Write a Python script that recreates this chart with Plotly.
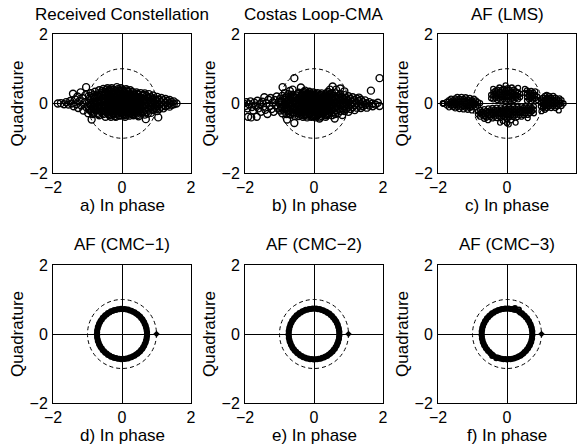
import numpy as np
import plotly.graph_objects as go

# ---------------------------------------------------------------------------
# Constellation samples (in-phase, [quadrature values]) grouped by I value
# ---------------------------------------------------------------------------
RX_COLS = [
    (-1.86, [0.00]), (-1.77, [0.01]), (-1.68, [-0.02]), (-1.62, [0.04]),
    (-1.55, [-0.03]), (-1.50, [0.07]), (-1.46, [0.00]), (-1.42, [0.28]),
    (-1.40, [-0.08]), (-1.36, [0.12]), (-1.32, [-0.02]), (-1.29, [0.20]),
    (-1.27, [-0.13]), (-1.23, [0.07]), (-1.20, [0.32]), (-1.18, [-0.06]),
    (-1.15, [0.16]), (-1.12, [-0.20]), (-1.09, [0.03]), (-1.06, [0.24]),
    (-1.04, [0.47]), (-1.03, [-0.11]), (-0.98, [-0.28]),
    (-0.96, [0.22, 0.02, -0.14]), (-0.90, [0.10, -0.06, -0.22, 0.30]),
    (-0.88, [-0.46]), (-0.84, [0.24, 0.04, -0.12, -0.30]),
    (-0.78, [0.15, -0.03, -0.19, 0.34]), (-0.72, [0.26, 0.08, -0.09, -0.27]),
    (-0.66, [0.18, 0.00, -0.16, -0.34, 0.38]), (-0.60, [0.30, 0.11, -0.06, -0.23]),
    (-0.54, [0.22, 0.04, -0.13, -0.30, 0.42]), (-0.48, [0.34, 0.14, -0.03, -0.20, -0.38]),
    (-0.42, [0.25, 0.07, -0.10, -0.27, 0.44]), (-0.36, [0.37, 0.17, 0.00, -0.17, -0.34]),
    (-0.32, [-0.38]), (-0.30, [0.28, 0.09, -0.08, -0.24, 0.44]),
    (-0.24, [0.39, 0.19, 0.02, -0.15, -0.31]), (-0.18, [0.30, 0.11, -0.06, -0.22, -0.38]),
    (-0.15, [0.47]), (-0.12, [0.41, 0.21, 0.04, -0.13, -0.29]),
    (-0.06, [0.32, 0.13, -0.04, -0.20, -0.35]), (0.00, [0.40, 0.23, 0.06, -0.11, -0.27]),
    (0.06, [0.33, 0.15, -0.02, -0.18, -0.34]), (0.12, [0.41, 0.25, 0.07, -0.09, -0.25]),
    (0.18, [0.34, 0.16, 0.00, -0.16, -0.32]), (0.24, [0.26, 0.08, -0.08, -0.23, 0.38]),
    (0.30, [0.33, 0.17, 0.01, -0.15, -0.30]), (0.36, [0.25, 0.09, -0.07, -0.22]),
    (0.42, [0.32, 0.16, 0.00, -0.14, -0.29]), (0.48, [0.24, 0.08, -0.08, -0.22, -0.37]),
    (0.54, [0.30, 0.15, -0.01, -0.15]), (0.60, [0.22, 0.06, -0.09, -0.25]),
    (0.66, [0.29, 0.13, -0.02, -0.17, -0.32]), (0.69, [-0.45]),
    (0.72, [0.21, 0.05, -0.10, -0.24]), (0.78, [0.27, 0.12, -0.03, -0.17]),
    (0.84, [0.18, 0.03, -0.11, -0.27]), (0.90, [0.23, 0.09, -0.05, -0.19]),
    (0.96, [0.14, 0.00, -0.13]), (1.02, [0.19, 0.06, -0.08, -0.22]),
    (1.05, [-0.40]), (1.08, [0.11, -0.03, -0.15]), (1.14, [0.16, 0.04, -0.09]),
    (1.20, [0.09, -0.04, -0.14]), (1.26, [0.13, 0.02, -0.08]), (1.32, [0.07, -0.05]),
    (1.38, [0.10, 0.00, -0.09]), (1.44, [0.04, -0.04]), (1.50, [0.06, -0.02]),
    (1.58, [0.00]),
    # densest part of the cloud
    (-0.93, [0.16, -0.02, -0.18]), (-0.81, [0.20, 0.00, -0.16, -0.26]),
    (-0.69, [0.22, 0.04, -0.13, -0.30]), (-0.57, [0.26, 0.07, -0.10, -0.27, 0.36]),
    (-0.45, [0.30, 0.10, -0.07, -0.23, 0.40]), (-0.39, [0.19, 0.02, -0.14, -0.31]),
    (-0.33, [0.33, 0.13, -0.04, -0.20, 0.40]), (-0.27, [0.24, 0.06, -0.12, -0.28]),
    (-0.21, [0.35, 0.15, -0.02, -0.19, -0.36]), (-0.15, [0.25, 0.07, -0.10, -0.26]),
    (-0.09, [0.36, 0.17, 0.00, -0.17, -0.34]), (-0.03, [0.27, 0.09, -0.08, -0.24, 0.44]),
    (0.03, [0.36, 0.18, 0.02, -0.15, -0.31]), (0.09, [0.29, 0.11, -0.05, -0.21, -0.38]),
    (0.15, [0.37, 0.20, 0.03, -0.13, -0.29]), (0.21, [0.29, 0.12, -0.04, -0.20, -0.35]),
    (0.27, [0.22, 0.05, -0.11, -0.27]), (0.33, [0.29, 0.13, -0.03, -0.19, -0.34]),
    (0.39, [0.20, 0.04, -0.11, -0.26]), (0.45, [0.28, 0.12, -0.04, -0.18, -0.33]),
    (0.51, [0.19, 0.03, -0.11, -0.26]), (0.63, [0.25, 0.09, -0.06, -0.21]),
    (0.75, [0.17, 0.01, -0.14, -0.29]), (0.87, [0.14, 0.00, -0.15]),
    (0.99, [0.10, -0.04, -0.16]),
]

COSTAS_COLS = [
    (-2.04, [0.00]), (-1.99, [-0.07]), (-1.96, [0.04]), (-1.93, [-0.14]),
    (-1.91, [-0.38]), (-1.88, [-0.02]), (-1.84, [0.06]), (-1.82, [-0.40]),
    (-1.80, [-0.10]), (-1.76, [-0.20]), (-1.73, [0.02]), (-1.70, [-0.06]),
    (-1.66, [-0.38]), (-1.64, [0.08]), (-1.61, [-0.14]), (-1.57, [-0.02]),
    (-1.54, [-0.24]), (-1.50, [0.05]), (-1.47, [-0.09]), (-1.44, [0.18]),
    (-1.41, [-0.18]), (-1.38, [0.01]), (-1.35, [-0.30]), (-1.32, [0.11]),
    (-1.29, [-0.07]), (-1.26, [0.16]), (-1.23, [-0.16]), (-1.20, [0.03]),
    (-1.17, [-0.24]), (-1.14, [0.10]), (-1.11, [-0.05]), (-1.08, [0.20]),
    (-1.05, [-0.14]), (-1.02, [0.05]), (-0.91, [0.47]), (-0.84, [0.30]),
    (-0.78, [-0.46]), (-0.70, [0.36]), (-0.57, [0.73, -0.56]),
    (-0.98, [0.14, -0.03, -0.20]), (-0.92, [0.22, 0.06, -0.11, -0.28]),
    (-0.86, [0.12, -0.04, -0.20]), (-0.80, [0.20, 0.04, -0.13, -0.30]),
    (-0.74, [0.27, 0.10, -0.06, -0.22]), (-0.68, [0.18, 0.01, -0.15, -0.32]),
    (-0.62, [0.25, 0.08, -0.08, -0.25, 0.40]), (-0.56, [0.16, -0.01, -0.18, -0.35]),
    (-0.50, [0.23, 0.06, -0.10, -0.27]), (-0.44, [0.31, 0.14, -0.03, -0.19, -0.36]),
    (-0.38, [0.22, 0.05, -0.12, -0.29, 0.46]), (-0.32, [0.30, 0.13, -0.04, -0.21, -0.38]),
    (-0.26, [0.37, 0.20, 0.03, -0.13, -0.30]), (-0.20, [0.28, 0.11, -0.06, -0.22, -0.40]),
    (-0.14, [0.34, 0.18, 0.01, -0.15, -0.31]), (-0.08, [0.26, 0.09, -0.08, -0.24, -0.38]),
    (-0.02, [0.32, 0.16, -0.01, -0.17, -0.33]), (0.04, [0.24, 0.07, -0.09, -0.26, -0.40]),
    (0.10, [0.30, 0.14, -0.02, -0.18, -0.34]), (0.16, [0.22, 0.05, -0.11, -0.27, -0.43]),
    (0.22, [0.29, 0.12, -0.04, -0.20, -0.36]), (0.28, [0.20, 0.03, -0.13, -0.29]),
    (0.34, [0.26, 0.10, -0.06, -0.22, -0.38]), (0.40, [0.33, 0.17, 0.01, -0.15, -0.31]),
    (0.46, [0.24, 0.08, -0.08, -0.24, 0.40]), (0.52, [0.30, 0.15, -0.01, -0.17, -0.34]),
    (0.54, [0.49]), (0.58, [0.22, 0.06, -0.10, -0.26]), (0.60, [-0.43]),
    (0.64, [0.29, 0.13, -0.03, -0.19, 0.40]), (0.70, [0.20, 0.04, -0.12, -0.28]),
    (0.76, [0.27, 0.11, -0.05, -0.21, 0.43]), (0.82, [0.18, 0.02, -0.14, -0.33]),
    (0.88, [0.24, 0.09, -0.07, -0.22, 0.35]), (0.94, [0.15, 0.00, -0.15]),
    (1.00, [0.21, 0.06, -0.09, -0.24]), (1.06, [0.13, -0.02, -0.16]),
    (1.12, [0.18, 0.04, -0.10]), (1.18, [0.10, -0.05, -0.19]),
    (1.24, [0.14, 0.01, -0.12]), (1.30, [0.07, -0.06, 0.17]),
    (1.36, [0.11, -0.02, -0.13]), (1.42, [0.04, -0.08]), (1.48, [0.09, -0.04]),
    (1.53, [0.00, -0.12]), (1.60, [0.04, -0.06]), (1.65, [0.37]),
    (1.70, [0.00, -0.08]), (1.78, [-0.03]), (1.85, [0.02]), (1.90, [-0.07, 0.73]),
    # densest part of the cloud
    (-0.95, [0.05, -0.12]), (-0.83, [0.16, -0.01, -0.16]),
    (-0.71, [0.14, -0.02, -0.19, -0.30]), (-0.59, [0.20, 0.04, -0.13, -0.29]),
    (-0.47, [0.27, 0.10, -0.06, -0.22]), (-0.41, [0.18, 0.01, -0.16, -0.32]),
    (-0.35, [0.26, 0.09, -0.08, -0.25]), (-0.29, [0.33, 0.16, -0.01, -0.17, -0.34]),
    (-0.23, [0.24, 0.07, -0.10, -0.26]), (-0.17, [0.30, 0.14, -0.03, -0.19, -0.35]),
    (-0.11, [0.22, 0.05, -0.12, -0.28]), (-0.05, [0.29, 0.12, -0.05, -0.21, -0.36]),
    (0.01, [0.20, 0.03, -0.13, -0.30]), (0.07, [0.27, 0.10, -0.06, -0.22, -0.37]),
    (0.13, [0.18, 0.02, -0.15, -0.31]), (0.19, [0.25, 0.08, -0.08, -0.24, -0.40]),
    (0.25, [0.16, 0.00, -0.16, -0.32]), (0.31, [0.23, 0.06, -0.10, -0.26]),
    (0.37, [0.29, 0.13, -0.03, -0.19, -0.34]), (0.43, [0.20, 0.04, -0.12, -0.28]),
    (0.49, [0.27, 0.11, -0.05, -0.21]), (0.61, [0.18, 0.02, -0.14, -0.30]),
    (0.73, [0.16, 0.00, -0.16]), (0.85, [0.13, -0.03, -0.18]), (0.97, [0.10, -0.06]),
]

LMS_COLS = [
    # left cluster
    (-1.86, [0.00]), (-1.85, [0.01]), (-1.84, [-0.01]),
    (-1.74, [0.05, -0.06]), (-1.68, [0.10, -0.01, -0.11]), (-1.62, [0.05, -0.06, 0.14]),
    (-1.56, [0.10, 0.00, -0.10]), (-1.50, [0.15, 0.05, -0.05, -0.14]),
    (-1.44, [0.10, 0.00, -0.10, 0.19]), (-1.38, [0.14, 0.04, -0.06, -0.16]),
    (-1.32, [0.19, 0.09, -0.01, -0.11]), (-1.26, [0.13, 0.03, -0.07, -0.17]),
    (-1.20, [0.18, 0.08, -0.02, -0.12]), (-1.14, [0.12, 0.02, -0.08, -0.18]),
    (-1.08, [0.16, 0.06, -0.04, -0.13]), (-1.02, [0.10, 0.00, -0.10, -0.20]),
    (-0.96, [0.14, 0.04, -0.06]), (-0.90, [0.09, -0.01, -0.11]),
    (-0.84, [0.04, -0.06, -0.22, -0.32]), (-0.78, [0.01, -0.18, -0.28, -0.38]),
    # lower middle band
    (-0.72, [-0.23, -0.33]), (-0.66, [-0.16, -0.26, -0.36, -0.44]),
    (-0.60, [-0.21, -0.31, -0.41]), (-0.55, [-0.48]), (-0.54, [-0.14, -0.24, -0.34]),
    (-0.48, [-0.19, -0.29, -0.39]), (-0.42, [-0.13, -0.23, -0.33, -0.43]),
    (-0.36, [-0.18, -0.28, -0.38]), (-0.30, [-0.12, -0.22, -0.32, -0.42]),
    (-0.24, [-0.17, -0.27, -0.37]), (-0.20, [-0.55]),
    (-0.18, [-0.11, -0.21, -0.31, -0.41]), (-0.12, [-0.16, -0.26, -0.36, -0.50]),
    (-0.06, [-0.10, -0.20, -0.30, -0.40]), (0.00, [-0.15, -0.25, -0.35, -0.45, -0.57]),
    (0.05, [-0.60]), (0.06, [-0.10, -0.20, -0.30, -0.40]),
    (0.12, [-0.14, -0.24, -0.34, -0.48]), (0.18, [-0.09, -0.19, -0.29, -0.39]),
    (0.24, [-0.14, -0.24, -0.34]), (0.25, [-0.55]), (0.30, [-0.09, -0.19, -0.29, -0.39]),
    (0.36, [-0.14, -0.24, -0.34]), (0.42, [-0.08, -0.18, -0.28, -0.38]),
    (0.48, [-0.13, -0.23, -0.33]), (0.54, [-0.08, -0.18, -0.28]),
    (0.60, [-0.13, -0.23, -0.33, -0.42]), (0.66, [-0.08, -0.18, -0.28]),
    (0.72, [-0.13, -0.23]), (0.78, [-0.08, -0.18, -0.28]),
    # upper middle clusters
    (-0.46, [0.15, 0.25]), (-0.40, [0.12, 0.22, 0.32, 0.42]), (-0.34, [0.16, 0.26, 0.36]),
    (-0.28, [0.10, 0.20, 0.30, 0.40]), (-0.22, [0.14, 0.24, 0.34, 0.46]),
    (-0.16, [0.09, 0.19, 0.29, 0.39]), (-0.10, [0.13, 0.23, 0.33, 0.43]),
    (-0.04, [0.08, 0.18, 0.28, 0.38, 0.52]), (0.02, [0.12, 0.22, 0.32, 0.44]),
    (0.08, [0.09, 0.19, 0.29, 0.39]), (0.14, [0.13, 0.23, 0.33, 0.46]),
    (0.20, [0.10, 0.20, 0.30, 0.40]), (0.26, [0.15, 0.25, 0.35]),
    (0.32, [0.12, 0.22, 0.32, 0.45]), (0.38, [0.18, 0.28]),
    (0.52, [0.30, 0.42]), (0.58, [0.08, 0.18, 0.28, 0.38]), (0.64, [0.12, 0.22, 0.32]),
    (0.70, [0.06, 0.16, 0.26, 0.36]), (0.76, [0.11, 0.21, 0.31]),
    (0.82, [0.15, 0.25, 0.35]), (0.88, [0.10, 0.20]),
    # right cluster
    (0.98, [0.02, -0.08, 0.12]), (1.00, [-0.22]), (1.04, [0.07, -0.03, -0.13, 0.17]),
    (1.10, [0.12, 0.02, -0.08, -0.18, 0.22]), (1.15, [0.25]),
    (1.16, [0.07, -0.03, -0.13, 0.17]), (1.22, [0.12, 0.02, -0.08, 0.22]),
    (1.28, [0.07, -0.03, -0.13, 0.17]), (1.34, [0.12, 0.02, -0.08, 0.22]),
    (1.40, [0.07, -0.03, -0.13, 0.17]), (1.46, [0.12, 0.02, -0.08]),
    (1.50, [-0.20]), (1.52, [0.07, -0.03, 0.15]), (1.58, [0.02, -0.07, 0.10]),
    (1.64, [0.00]),
]

# Equalized outputs of the CMC filters: (modulus, [angles in degrees])
CMC1_SAMPLES = [
    (0.72, [0, 8, 16, 24, 32, 40, 48, 56, 64, 72, 80, 88, 96, 104, 112, 120,
            128, 136, 144, 152, 160, 168, 176, 184, 192, 200, 208, 216, 224,
            232, 240, 248, 256, 264, 272, 280, 288, 296, 304, 312, 320, 328,
            336, 344, 352]),
    (0.73, [4, 12, 20, 28, 36, 44, 52, 60, 68, 76, 84, 92, 100, 108, 116, 124,
            132, 140, 148, 156, 164, 172, 180, 188, 196, 204, 212, 220, 228,
            236, 244, 252, 260, 268, 276, 284, 292, 300, 308, 316, 324, 332,
            340, 348, 356]),
]
CMC2_SAMPLES = [
    (0.73, [1, 9, 17, 25, 33, 41, 49, 57, 65, 73, 81, 89, 97, 105, 113, 121,
            129, 137, 145, 153, 161, 169, 177, 185, 193, 201, 209, 217, 225,
            233, 241, 249, 257, 265, 273, 281, 289, 297, 305, 313, 321, 329,
            337, 345, 353]),
    (0.74, [5, 13, 21, 29, 37, 45, 53, 61, 69, 77, 85, 93, 101, 109, 117, 125,
            133, 141, 149, 157, 165, 173, 181, 189, 197, 205, 213, 221, 229,
            237, 245, 253, 261, 269, 277, 285, 293, 301, 309, 317, 325, 333,
            341, 349, 357]),
]
CMC3_SAMPLES = [
    (0.73, [2, 10, 18, 26, 34, 42, 50, 58, 74, 82, 90, 98, 106, 114, 122,
            130, 138, 146, 154, 162, 170, 178, 186, 194, 202, 210, 218, 226,
            234, 250, 258, 266, 274, 282, 290, 298, 306, 314, 322, 330,
            338, 346, 354]),
    (0.74, [6, 14, 22, 30, 38, 46, 54, 62, 70, 78, 86, 94, 102, 110, 118, 126,
            134, 142, 150, 158, 166, 174, 182, 190, 198, 206, 214, 222, 230,
            238, 246, 254, 262, 270, 278, 286, 294, 302, 310, 318, 326, 334,
            342, 350, 358]),
    (0.79, [64, 73]),
    (0.77, [236, 246]),
]

# Transmitted reference symbol
REF_I = [1.0]
REF_Q = [0.0]
UNIT_RADIUS = 1.0

TITLES = ["Received Constellation", "Costas Loop-CMA", "AF (LMS)",
          "AF (CMC\u22121)", "AF (CMC\u22122)", "AF (CMC\u22123)"]
XLABELS = ["a) In phase", "b) In phase", "c) In phase",
           "d) In phase", "e) In phase", "f) In phase"]
YLABEL = "Quadrature"
TICK_VALS = [-2, 0, 2]
TICK_TEXT = ["\u22122", "0", "2"]
AXIS_RANGE = [-2, 2]


def expand(cols):
    xs, ys = [], []
    for i, qs in cols:
        for q in qs:
            xs.append(i)
            ys.append(q)
    return xs, ys


def polar(samples):
    xs, ys = [], []
    for mod, angles in samples:
        a = np.deg2rad(np.asarray(angles, dtype=float))
        xs.extend(mod * np.cos(a))
        ys.extend(mod * np.sin(a))
    return xs, ys


# (points, marker size, marker line width)
panels = [
    (expand(RX_COLS), 7, 1.4),
    (expand(COSTAS_COLS), 7, 1.4),
    (expand(LMS_COLS), 5, 1.3),
    (polar(CMC1_SAMPLES), 4, 2.0),
    (polar(CMC2_SAMPLES), 4, 2.0),
    (polar(CMC3_SAMPLES), 4, 2.0),
]

# ---------------------------------------------------------------------------
# Layout geometry (pixels)
# ---------------------------------------------------------------------------
W, H = 579, 447
COLS_PX = [(53, 191), (245, 383), (438, 576)]
ROWS_PX = [(34, 173), (265, 403)]
FONT = "Liberation Sans, Arial, Helvetica, sans-serif"
FS = 17
TICK_FS = 16

fig = go.Figure()
annotations = []
shapes = []

for k, ((xs, ys), msize, mline) in enumerate(panels):
    r, c = divmod(k, 3)
    left, right = COLS_PX[c]
    top, bottom = ROWS_PX[r]
    ax = "" if k == 0 else str(k + 1)
    xname, yname = "x" + ax, "y" + ax

    fig.add_trace(go.Scatter(
        x=xs, y=ys, mode="markers", xaxis=xname, yaxis=yname,
        marker=dict(symbol="circle-open", size=msize, color="black",
                    line=dict(width=mline, color="black")),
        showlegend=False, hoverinfo="skip"))
    if k >= 3:
        fig.add_trace(go.Scatter(
            x=REF_I, y=REF_Q, mode="markers", xaxis=xname, yaxis=yname,
            marker=dict(symbol="diamond", size=5, color="black"),
            showlegend=False, hoverinfo="skip"))

    axis_common = dict(
        range=AXIS_RANGE, tickmode="array", tickvals=TICK_VALS, ticktext=TICK_TEXT,
        showgrid=False, zeroline=True, zerolinecolor="black", zerolinewidth=1,
        showline=True, linecolor="black", linewidth=1, mirror=True, ticks="",
        automargin=False,
        tickfont=dict(family=FONT, size=TICK_FS, color="black"), fixedrange=True)
    fig.layout["xaxis" + ax] = dict(
        axis_common, domain=[left / W, right / W], anchor=yname, ticklabelstandoff=0)
    fig.layout["yaxis" + ax] = dict(
        axis_common, domain=[1 - bottom / H, 1 - top / H], anchor=xname,
        ticklabelstandoff=1)

    shapes.append(dict(
        type="circle", xref=xname, yref=yname,
        x0=-UNIT_RADIUS, y0=-UNIT_RADIUS, x1=UNIT_RADIUS, y1=UNIT_RADIUS,
        line=dict(color="black", width=1, dash="4px,3px"), layer="below"))

    cx = (left + right) / 2 / W
    annotations.append(dict(
        text=TITLES[k], x=cx, y=1 - (top - 20) / H, xref="paper", yref="paper",
        xanchor="center", yanchor="middle", showarrow=False,
        font=dict(family=FONT, size=FS, color="black")))
    annotations.append(dict(
        text=XLABELS[k], x=cx, y=1 - (bottom + 32) / H, xref="paper", yref="paper",
        xanchor="center", yanchor="middle", showarrow=False,
        font=dict(family=FONT, size=FS, color="black")))
    annotations.append(dict(
        text=YLABEL, x=(left - 36) / W, y=1 - (top + bottom) / 2 / H,
        xref="paper", yref="paper", xanchor="center", yanchor="middle",
        textangle=-90, showarrow=False,
        font=dict(family=FONT, size=FS, color="black")))

fig.update_layout(
    template="none",
    width=W, height=H, margin=dict(l=0, r=0, t=0, b=0),
    paper_bgcolor="white", plot_bgcolor="white",
    annotations=annotations, shapes=shapes)

fig.write_html("out.html")
